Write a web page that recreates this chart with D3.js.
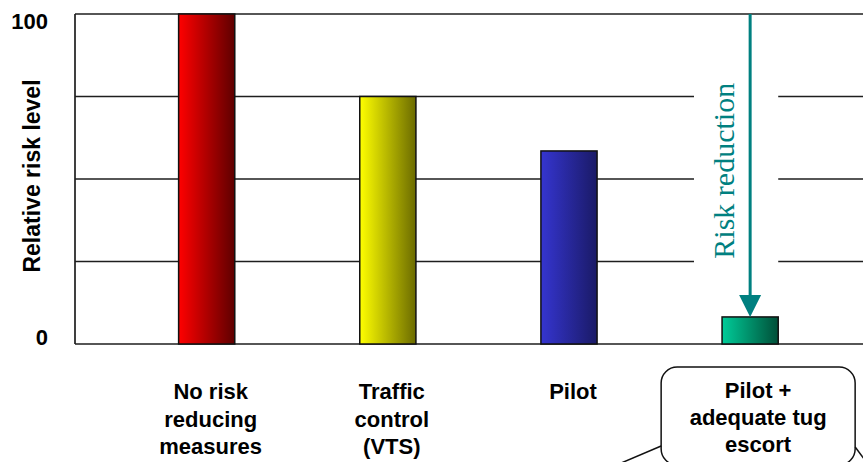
<!DOCTYPE html>
<html>
<head>
<meta charset="utf-8">
<script src="https://cdn.jsdelivr.net/npm/d3@7"></script>
<style>
  html, body { margin: 0; padding: 0; background: #ffffff; }
  svg { display: block; }
</style>
</head>
<body>
<script>
// Chart data
const categories = [
  ["No risk", "reducing", "measures"],
  ["Traffic", "control", "(VTS)"],
  ["Pilot"],
  ["Pilot +", "adequate tug", "escort"]
];
const riskLevels = [100, 75, 58.5, 8.2];
const yTickValues = [0, 100];
const gridValues = [0, 25, 50, 75, 100];
const yTitle = "Relative risk level";
const arrowLabel = "Risk reduction";

// Bar fills: light edge -> dark edge
const barLight = ["#ff0000", "#ffff00", "#3535d0", "#00cc99"];
const barDark  = ["#5e0000", "#6b6b00", "#1a1a66", "#004f38"];

const W = 863, H = 462;
const plot = { left: 75, right: 863, top: 14, bottom: 344 };
const font = "'Liberation Sans', Arial, sans-serif";

const svg = d3.select("body").append("svg")
  .attr("width", W).attr("height", H);

const keys = categories.map(c => c.join(" "));

const x = d3.scaleBand()
  .domain(keys)
  .range([plot.left, plot.right])
  .paddingInner(0.69)
  .paddingOuter(0.52)
  .align(0.55);

const y = d3.scaleLinear()
  .domain([0, 100])
  .range([plot.bottom, plot.top]);

// Gradients
const defs = svg.append("defs");
keys.forEach((k, i) => {
  const g = defs.append("linearGradient")
    .attr("id", "grad" + i)
    .attr("x1", "0%").attr("x2", "100%")
    .attr("y1", "0%").attr("y2", "0%");
  g.append("stop").attr("offset", "0%").attr("stop-color", barLight[i]);
  g.append("stop").attr("offset", "100%").attr("stop-color", barDark[i]);
});

// Horizontal gridlines
svg.append("g")
  .selectAll("line")
  .data(gridValues)
  .join("line")
  .attr("x1", plot.left).attr("x2", plot.right)
  .attr("y1", d => y(d)).attr("y2", d => y(d))
  .attr("stroke", "#1e1e1e")
  .attr("stroke-width", 1.7);

// Left axis line
svg.append("line")
  .attr("x1", plot.left).attr("x2", plot.left)
  .attr("y1", y(0)).attr("y2", y(100))
  .attr("stroke", "#1e1e1e")
  .attr("stroke-width", 1.7);

// Y tick labels
const yAxis = svg.append("g")
  .attr("transform", `translate(${plot.left},0)`)
  .call(d3.axisLeft(y).tickValues(yTickValues).tickSize(0).tickPadding(27).tickFormat(d3.format("d")));
yAxis.select(".domain").remove();
yAxis.selectAll("text")
  .attr("font-family", font)
  .attr("font-size", 22)
  .attr("font-weight", "bold")
  .attr("fill", "#000")
  .attr("dy", d => d === 100 ? "0.68em" : "0.02em");

// Y title
svg.append("text")
  .attr("transform", `translate(40,176) rotate(-90)`)
  .attr("text-anchor", "middle")
  .attr("font-family", font)
  .attr("font-size", 23)
  .attr("font-weight", "bold")
  .attr("fill", "#000")
  .text(yTitle);

// Last category: clear band behind the arrow label
const lastKey = keys[keys.length - 1];
const lastIdx = keys.length - 1;
const arrowX = x(lastKey) + x.bandwidth() / 2;
svg.append("rect")
  .attr("x", arrowX - x.bandwidth())
  .attr("y", y(96))
  .attr("width", x.bandwidth() * 1.5)
  .attr("height", y(7) - y(96))
  .attr("fill", "#ffffff");

// Bars
svg.append("g")
  .selectAll("rect")
  .data(riskLevels)
  .join("rect")
  .attr("x", (d, i) => x(keys[i]))
  .attr("y", d => y(d))
  .attr("width", x.bandwidth())
  .attr("height", d => y(0) - y(d))
  .attr("fill", (d, i) => `url(#grad${i})`)
  .attr("stroke", "#111")
  .attr("stroke-width", 1.5);

// Risk reduction arrow
const arrowColor = "#008080";
const tipY = y(riskLevels[lastIdx]);
svg.append("line")
  .attr("x1", arrowX).attr("x2", arrowX)
  .attr("y1", y(100)).attr("y2", tipY - 18)
  .attr("stroke", arrowColor)
  .attr("stroke-width", 3);
svg.append("path")
  .attr("d", `M${arrowX - 11},${tipY - 22} L${arrowX + 11},${tipY - 22} L${arrowX},${tipY} Z`)
  .attr("fill", arrowColor);
svg.append("text")
  .attr("transform", `translate(${arrowX - 16},${y(52.5)}) rotate(-90)`)
  .attr("text-anchor", "middle")
  .attr("font-family", "'Liberation Serif', 'Times New Roman', serif")
  .attr("font-size", 30)
  .attr("fill", arrowColor)
  .text(arrowLabel);

// Callout box around the last category label
const lastLabelX = arrowX + 8;
const box = { x: lastLabelX - 97, y: 367, w: 194, h: 98 };
svg.append("rect")
  .attr("x", box.x).attr("y", box.y)
  .attr("width", box.w).attr("height", box.h)
  .attr("rx", 16).attr("ry", 16)
  .attr("fill", "#fff")
  .attr("stroke", "#111")
  .attr("stroke-width", 1.5);
svg.append("path")
  .attr("d", `M${box.x},${box.y + 79} L${box.x - 47},${box.y + 99}`)
  .attr("stroke", "#111").attr("stroke-width", 1.5).attr("fill", "none");
svg.append("path")
  .attr("d", `M${box.x + box.w},${box.y + 80} L${box.x + box.w + 12},${box.y + 96}`)
  .attr("stroke", "#111").attr("stroke-width", 1.5).attr("fill", "none");

// Category labels
const labels = svg.append("g")
  .selectAll("text")
  .data(categories)
  .join("text")
  .attr("text-anchor", "middle")
  .attr("font-family", font)
  .attr("font-size", 22)
  .attr("font-weight", "bold")
  .attr("fill", "#000")
  .attr("x", (d, i) => x(keys[i]) + x.bandwidth() / 2 + (i === lastIdx ? 8 : 4))
  .attr("y", (d, i) => i === lastIdx ? 398 : 399);
labels.selectAll("tspan")
  .data((d, i) => d.map(line => ({ line, i })))
  .join("tspan")
  .attr("x", function() { return d3.select(this.parentNode).attr("x"); })
  .attr("dy", (d, j) => j === 0 ? 0 : (d.i === lastIdx ? 27 : 27.5))
  .text(d => d.line);
</script>
</body>
</html>
